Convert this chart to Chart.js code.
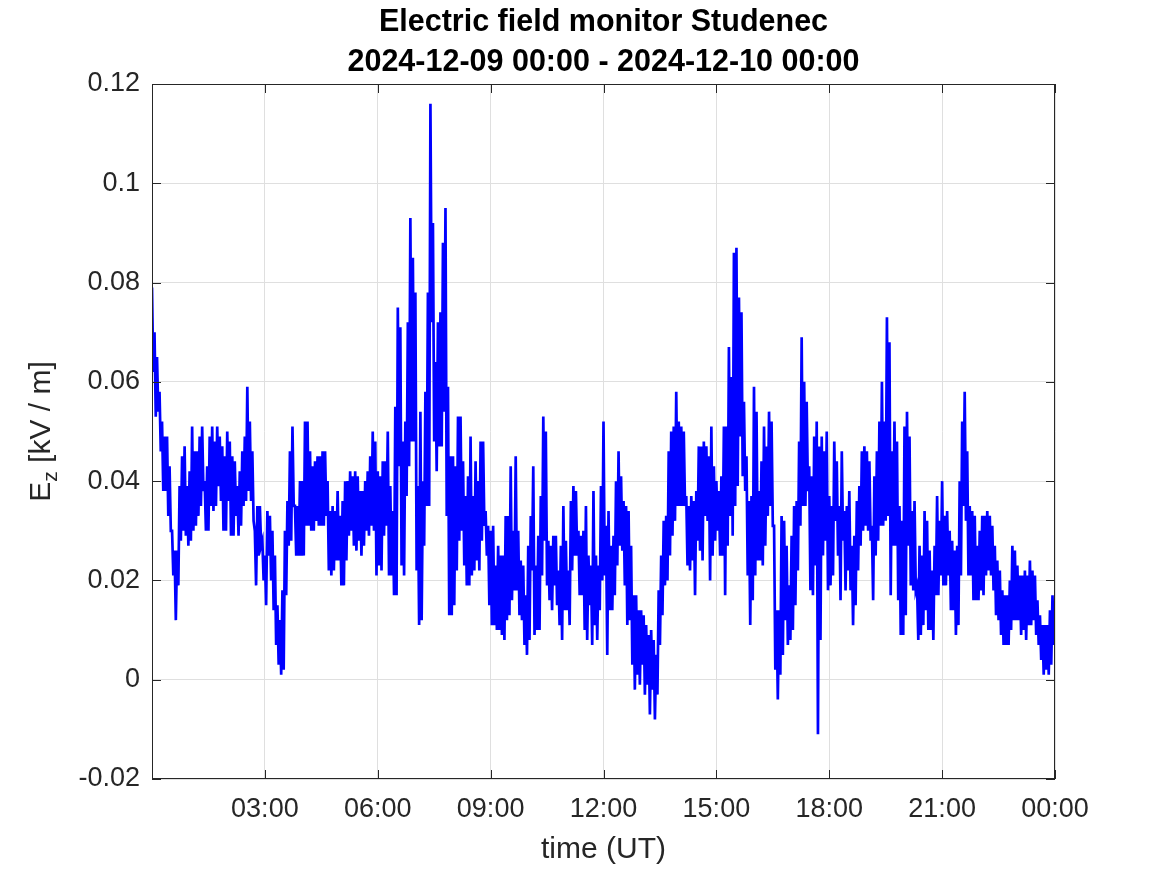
<!DOCTYPE html>
<html>
<head>
<meta charset="utf-8">
<title>Electric field monitor Studenec</title>
<script src="https://cdn.jsdelivr.net/npm/chart.js@4.4.1/dist/chart.umd.min.js"></script>
<style>
  html, body { margin: 0; padding: 0; background: #fff; }
</style>
</head>
<body>
<canvas id="ez-chart" width="1167" height="875"></canvas>
<script>
const titleLines = ['Electric field monitor Studenec', '2024-12-09 00:00 - 2024-12-10 00:00'];
const xAxisTitle = 'time (UT)';

// minutes since 2024-12-09 00:00 UT
const xTicks = [0, 180, 360, 540, 720, 900, 1080, 1260, 1440];
const xTickLabels = ['', '03:00', '06:00', '09:00', '12:00', '15:00', '18:00', '21:00', '00:00'];
const yTicks = [-0.02, 0, 0.02, 0.04, 0.06, 0.08, 0.1, 0.12];
const yTickLabels = ['-0.02', '0', '0.02', '0.04', '0.06', '0.08', '0.1', '0.12'];

const sampleStepMinutes = 2;
// Ez [kV/m], one sample every 2 minutes, one row per hour
const ezValues = [
  .079,.062,.070,.053,.065,.054,.058,.046,.052,.038,.049,.038,.049,.033,.043,.030,.030,.021,.026,.012,.026,.019,.039,.028,.045,.030,.047,.029,.039,.027,
  .042,.028,.051,.030,.046,.031,.046,.033,.049,.035,.051,.038,.040,.030,.043,.030,.049,.035,.051,.034,.048,.035,.051,.039,.049,.036,.047,.030,.045,.030,
  .050,.036,.048,.029,.045,.029,.044,.033,.039,.029,.042,.031,.046,.035,.049,.036,.059,.038,.052,.036,.046,.032,.030,.019,.035,.025,.035,.027,.028,.020,
  .025,.015,.034,.025,.033,.020,.030,.014,.025,.007,.015,.003,.012,.001,.018,.002,.030,.017,.036,.027,.046,.028,.051,.035,.035,.025,.035,.025,.040,.025,
  .040,.025,.052,.031,.052,.031,.046,.030,.043,.030,.044,.032,.045,.031,.045,.031,.046,.031,.046,.033,.040,.022,.034,.021,.035,.022,.034,.024,.038,.024,
  .033,.019,.036,.019,.040,.024,.040,.029,.042,.030,.041,.027,.042,.026,.041,.028,.038,.025,.038,.027,.040,.030,.042,.029,.045,.031,.050,.030,.048,.021,
  .042,.023,.041,.022,.044,.029,.044,.031,.050,.021,.039,.021,.034,.017,.055,.017,.075,.043,.071,.023,.048,.021,.052,.037,.072,.043,.093,.048,.085,.048,
  .078,.022,.039,.011,.054,.012,.040,.027,.058,.035,.078,.035,.116,.072,.092,.048,.064,.042,.072,.047,.074,.047,.088,.054,.095,.033,.059,.013,.045,.013,
  .045,.015,.043,.022,.053,.028,.053,.030,.044,.023,.037,.019,.041,.019,.049,.021,.037,.022,.044,.024,.040,.022,.048,.028,.048,.031,.034,.025,.031,.015,
  .030,.011,.031,.011,.023,.010,.027,.010,.025,.009,.025,.008,.033,.012,.033,.013,.043,.016,.030,.018,.045,.018,.030,.013,.024,.012,.023,.007,.017,.005,
  .027,.008,.033,.022,.043,.009,.023,.010,.029,.010,.037,.021,.053,.028,.050,.019,.028,.016,.027,.014,.029,.019,.029,.015,.022,.011,.027,.008,.035,.014,
  .028,.014,.022,.011,.036,.022,.039,.025,.038,.025,.030,.017,.029,.017,.030,.010,.035,.008,.025,.015,.023,.007,.038,.011,.025,.008,.023,.014,.039,.020,
  .052,.021,.031,.005,.034,.014,.027,.014,.029,.017,.040,.023,.046,.027,.041,.026,.036,.019,.035,.011,.034,.012,.027,.003,.017,-.002,.017,.001,.014,-.001,
  .014,.003,.013,-.003,.011,-.001,.009,-.007,.010,-.002,.008,-.008,.005,-.003,.018,.007,.025,.013,.032,.019,.033,.020,.046,.025,.050,.029,.051,.032,.058,.035,
  .052,.035,.051,.035,.050,.035,.037,.023,.035,.022,.037,.024,.036,.017,.038,.028,.047,.026,.047,.024,.048,.033,.047,.032,.045,.020,.051,.025,.043,.028,
  .040,.030,.038,.025,.041,.025,.051,.017,.051,.027,.067,.033,.061,.029,.086,.035,.087,.039,.077,.049,.074,.041,.056,.038,.045,.021,.036,.011,.037,.016,
  .059,.021,.054,.024,.038,.024,.044,.023,.051,.027,.047,.033,.054,.035,.052,.031,.031,.002,.014,-.004,.014,.001,.033,.005,.032,.012,.027,.007,.019,.008,
  .029,.010,.035,.015,.036,.022,.048,.031,.069,.035,.060,.035,.056,.038,.043,.018,.041,.017,.049,.023,.052,-.011,.047,.008,.049,.025,.046,.028,.050,.018,
  .037,.019,.035,.021,.048,.032,.044,.025,.035,.016,.046,.028,.034,.018,.035,.022,.038,.018,.027,.011,.029,.015,.036,.022,.039,.027,.046,.030,.047,.031,
  .046,.030,.044,.028,.031,.016,.041,.025,.046,.028,.052,.031,.060,.031,.052,.032,.073,.033,.068,.017,.046,.027,.052,.027,.048,.016,.035,.009,.032,.009,
  .051,.013,.054,.027,.049,.019,.034,.018,.036,.018,.019,.008,.027,.009,.025,.011,.034,.014,.032,.010,.026,.010,.022,.008,.027,.017,.037,.017,.032,.021,
  .040,.019,.033,.019,.034,.021,.030,.014,.028,.014,.026,.009,.027,.011,.040,.021,.052,.035,.058,.032,.046,.021,.035,.021,.034,.016,.033,.016,.027,.016,
  .030,.018,.033,.017,.033,.021,.034,.022,.033,.021,.031,.018,.027,.013,.024,.012,.022,.009,.018,.007,.017,.007,.017,.007,.020,.010,.027,.012,.026,.012,
  .023,.012,.021,.009,.021,.010,.022,.008,.021,.011,.024,.011,.022,.012,.021,.009,.016,.007,.013,.004,.011,.001,.011,.002,.011,.001,.014,.003,.017,.007,
  .015
];

const FONT = "'Liberation Sans', Arial, Helvetica, sans-serif";
const AXIS_COLOR = '#262626';

// frame with inward ticks on all four sides, plus axis titles
const matlabAxes = {
    id: 'matlabAxes',
    afterDatasetsDraw(chart) {
        const { ctx, chartArea: a, scales } = chart;
        const tick = 9;
        ctx.save();
        ctx.strokeStyle = AXIS_COLOR;
        ctx.lineWidth = 1;
        ctx.beginPath();
        xTicks.forEach((v) => {
            const px = Math.round(scales.x.getPixelForValue(v)) + 0.5;
            ctx.moveTo(px, a.bottom); ctx.lineTo(px, a.bottom - tick);
            ctx.moveTo(px, a.top); ctx.lineTo(px, a.top + tick);
        });
        yTicks.forEach((v) => {
            const py = Math.round(scales.y.getPixelForValue(v)) + 0.5;
            ctx.moveTo(a.left, py); ctx.lineTo(a.left + tick, py);
            ctx.moveTo(a.right, py); ctx.lineTo(a.right - tick, py);
        });
        ctx.stroke();
        ctx.strokeRect(a.left + 0.5, a.top + 0.5, a.width - 1, a.height - 1);

        ctx.fillStyle = AXIS_COLOR;
        ctx.textBaseline = 'middle';
        ctx.textAlign = 'center';
        ctx.font = `30px ${FONT}`;
        ctx.fillText(xAxisTitle, (a.left + a.right) / 2, 850);

        // E_z [kV / m], rotated
        ctx.translate(42, (a.top + a.bottom) / 2);
        ctx.rotate(-Math.PI / 2);
        ctx.textAlign = 'left';
        const big = `30px ${FONT}`, small = `21px ${FONT}`;
        ctx.font = big; const wE = ctx.measureText('E').width;
        const wRest = ctx.measureText(' [kV / m]').width;
        ctx.font = small; const wZ = ctx.measureText('z').width;
        let cx = -(wE + wZ + wRest) / 2;
        ctx.font = big; ctx.fillText('E', cx, 0); cx += wE;
        ctx.font = small; ctx.fillText('z', cx, 9); cx += wZ;
        ctx.font = big; ctx.fillText(' [kV / m]', cx, 0);
        ctx.restore();
    }
};

const ctx = document.getElementById('ez-chart').getContext('2d');
new Chart(ctx, {
    type: 'line',
    data: {
        datasets: [{
            data: ezValues.map((v, i) => ({ x: i * sampleStepMinutes, y: v })),
            borderColor: '#0000ff',
            borderWidth: 2.7,
            borderJoinStyle: 'miter',
            pointRadius: 0,
            tension: 0,
            fill: false,
        }]
    },
    options: {
        responsive: false,
        animation: false,
        parsing: false,
        layout: { padding: { top: 0, right: 112, bottom: 0, left: 0 } },
        plugins: {
            legend: { display: false },
            tooltip: { enabled: false },
            title: {
                display: true,
                fullSize: false,
                text: titleLines,
                color: '#000',
                font: { family: FONT, size: 30.5, weight: 'bold', lineHeight: 40 / 30.5 },
                padding: { top: 3, bottom: 1 },
            },
        },
        scales: {
            x: {
                type: 'linear',
                min: 0,
                max: 1440,
                afterBuildTicks: (scale) => { scale.ticks = xTicks.map(v => ({ value: v })); },
                afterFit: (scale) => { scale.height = 96; },
                ticks: {
                    autoSkip: false,
                    maxRotation: 0,
                    padding: 14,
                    color: AXIS_COLOR,
                    font: { family: FONT, size: 27 },
                    callback: (v, i) => xTickLabels[i],
                },
                grid: { color: '#dfdfdf', drawTicks: false },
                border: { display: false },
            },
            y: {
                min: -0.02,
                max: 0.12,
                afterBuildTicks: (scale) => { scale.ticks = yTicks.map(v => ({ value: v })); },
                afterFit: (scale) => { scale.width = 152; },
                ticks: {
                    padding: 12,
                    color: AXIS_COLOR,
                    font: { family: FONT, size: 27 },
                    callback: (v, i) => yTickLabels[i],
                },
                grid: { color: '#dfdfdf', drawTicks: false },
                border: { display: false },
            }
        }
    },
    plugins: [matlabAxes]
});
</script>
</body>
</html>
